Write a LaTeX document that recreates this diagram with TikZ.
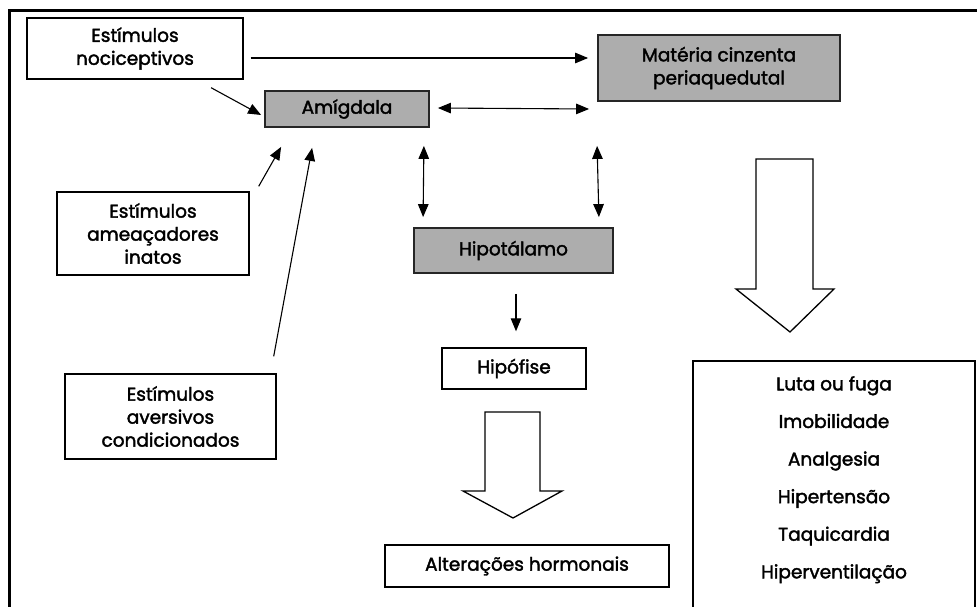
\documentclass[tikz,border=0pt]{standalone}
\usepackage{fontspec}
\setmainfont{Poppins}
\newfontfamily\lblfont{Poppins}[FakeBold=2]
\usetikzlibrary{arrows.meta,calc}

\tikzset{
  lbl/.style={font=\lblfont\fontsize{18.5}{23}\selectfont, align=center, inner sep=0pt},
  whitebox/.style={lbl, draw=black, line width=1.4pt, fill=white},
  graybox/.style={lbl, draw=black!85, line width=1.8pt, fill=black!32},
  arr/.style={line width=1.1pt, -{Triangle[length=13pt,width=10.5pt]}},
  darr/.style={line width=1.1pt, {Triangle[length=13pt,width=10.5pt]}-{Triangle[length=13pt,width=10.5pt]}},
  bigarrow/.style={draw=black, line width=1.3pt, fill=white, line join=miter},
  frameline/.style={line width=3pt, black},
}

\begin{document}
\begin{tikzpicture}[x=1pt,y=-1pt]
\useasboundingbox (0,0) rectangle (977,607);
\clip (0,0) rectangle (977,607);

% outer frame (top and left edges)
\draw[frameline] (8,11) -- (977,11);
\draw[frameline] (9.5,9.5) -- (9.5,607);

% boxes
\node[whitebox, minimum width=216pt, minimum height=61pt] (noci) at (135,48.5) {Estímulos\\nociceptivos};
\node[graybox, minimum width=242pt, minimum height=66pt] (mcp) at (719,68) {Matéria cinzenta\\periaquedutal};
\node[graybox, minimum width=164pt, minimum height=36pt] (amig) at (347,109) {Amígdala};
\node[graybox, minimum width=199pt, minimum height=45pt] (hipot) at (513.5,250.5) {Hipotálamo};
\node[whitebox, minimum width=192pt, minimum height=83pt] (amea) at (153,233.5) {Estímulos\\ameaçadores\\inatos};
\node[whitebox, minimum width=211pt, minimum height=85pt] (aver) at (170.5,416.5) {Estímulos\\aversivos\\condicionados};
\node[whitebox, minimum width=144pt, minimum height=41pt] (hipof) at (514,368.5) {Hipófise};
\node[whitebox, minimum width=284pt, minimum height=42pt] (alter) at (527,566) {Alterações hormonais};

% response box, open at the lower edge
\draw[line width=1.4pt] (693,640) -- (693,361) -- (975,361) -- (975,640);
\node[lbl, font=\lblfont\fontsize{18.5}{37.6}\selectfont, anchor=north] (resp) at (834,376) {Luta ou fuga\\Imobilidade\\Analgesia\\Hipertensão\\Taquicardia\\Hiperventilação};

% connectors
\draw[arr] ([xshift=7pt,yshift=-9.5pt]noci.east) -- ([xshift=-9pt]mcp.west |- {0,58});
\draw[arr] ($(noci.south west)!0.85!(noci.south east)+(0,8)$) -- ([xshift=-3pt,yshift=-6pt]amig.west);
\draw[darr] ([xshift=8pt,yshift=1pt]amig.east) -- ([xshift=-8pt]mcp.south west |- amig.east);
\draw[darr] ($(amig.south east)+(-6,18)$) -- ($(hipot.north west)+(10,-10)$);
\draw[darr] ($(mcp.south west)+(0,44)$) -- ($(hipot.north east)+(-15,-10)$);
\draw[arr] ($(amea.north east)+(9,-5)$) -- ($(amig.south west)+(17,19)$);
\draw[arr] ($(aver.north east)+(-3,-17)$) -- ($(amig.south west)+(48,20)$);
\draw[arr] ($(hipot.south)+(2.5,20)$) -- ($(hipof.north)+(2,-16)$);

% broad hollow arrows
\draw[bigarrow] (485,412) -- (540,412) -- (540,491) -- (562,491) -- (513,518)
  -- (463,491) -- (485,491) -- cycle;
\draw[bigarrow] (756,159) -- (813,159) -- (813,289) -- (834,289) -- (790,332)
  -- (736,289) -- (756,289) -- cycle;
\end{tikzpicture}
\end{document}
